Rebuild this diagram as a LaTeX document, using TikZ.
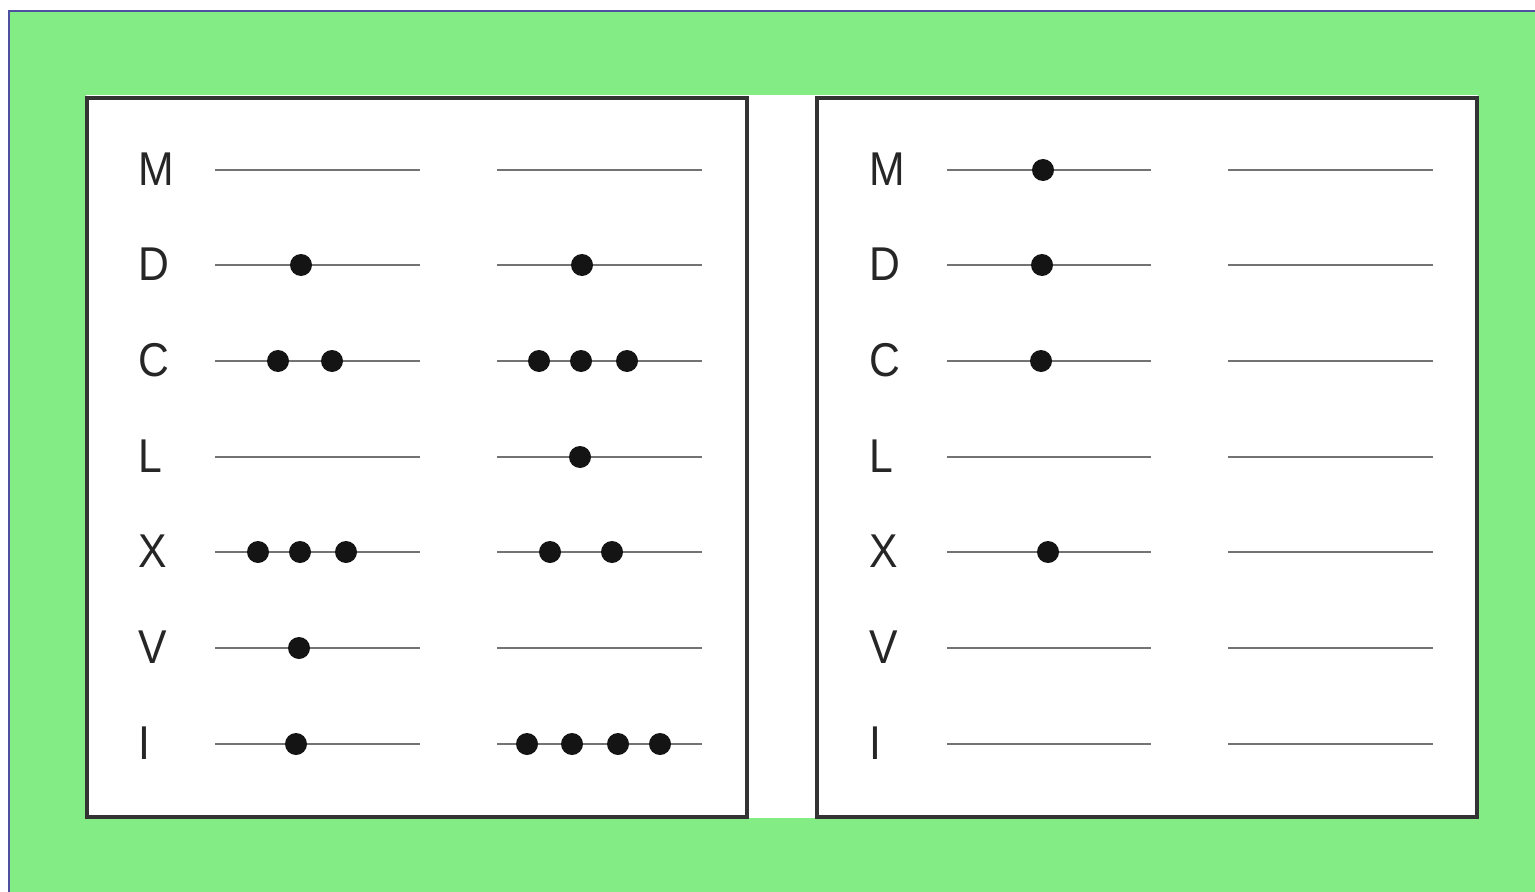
\documentclass[tikz,border=0pt]{standalone}
\usepackage{fontspec}
\setmainfont{Liberation Sans}
\definecolor{bggreen}{RGB}{132,236,132}
\definecolor{edgeblue}{RGB}{80,80,160}
\begin{document}
\begin{tikzpicture}[x=0.02cm,y=-0.02cm,
  frame/.style={draw=black!80,line width=2pt},
  wire/.style={draw=black!55,line width=1.6pt},
  bead/.style={fill=black!92},
  letter/.style={anchor=base west,inner sep=0pt,xscale=0.9,font=\fontsize{27}{27}\selectfont,text=black!85}]
\useasboundingbox (0,0) rectangle (1535,892);
\fill[white] (0,0) rectangle (1535,892);
\fill[bggreen] (9,11) rectangle (1535,892);
\draw[line width=1.1pt,edgeblue] (9,892) -- (9,11) -- (1535,11);
\fill[white] (86,95) rectangle (1478,818);
\draw[frame] (87,98) rectangle (747,817);
\draw[frame] (817,98) rectangle (1477,817);
\foreach \lab/\yy [count=\i] in {M/170,D/265,C/361,L/457,X/552,V/648,I/744}{
  \node[letter] (l\i) at (138,\yy+15) {\lab};
  \node[letter] (r\i) at (869,\yy+15) {\lab};
  \draw[wire] (215,\yy) -- (420,\yy);
  \draw[wire] (497,\yy) -- (702,\yy);
  \draw[wire] (947,\yy) -- (1151,\yy);
  \draw[wire] (1228,\yy) -- (1433,\yy);
}
\def\R{11}
% left box, column 1
\foreach \px/\py in {301/265, 278/361, 332/361, 258/552, 300/552, 346/552, 299/648, 296/744}
  \fill[bead] (\px,\py) circle[radius=\R];
% left box, column 2
\foreach \px/\py in {582/265, 539/361, 581/361, 627/361, 580/457, 550/552, 612/552, 527/744, 572/744, 618/744, 660/744}
  \fill[bead] (\px,\py) circle[radius=\R];
% right box, column 1
\foreach \px/\py in {1043/170, 1042/265, 1041/361, 1048/552}
  \fill[bead] (\px,\py) circle[radius=\R];
\end{tikzpicture}
\end{document}
